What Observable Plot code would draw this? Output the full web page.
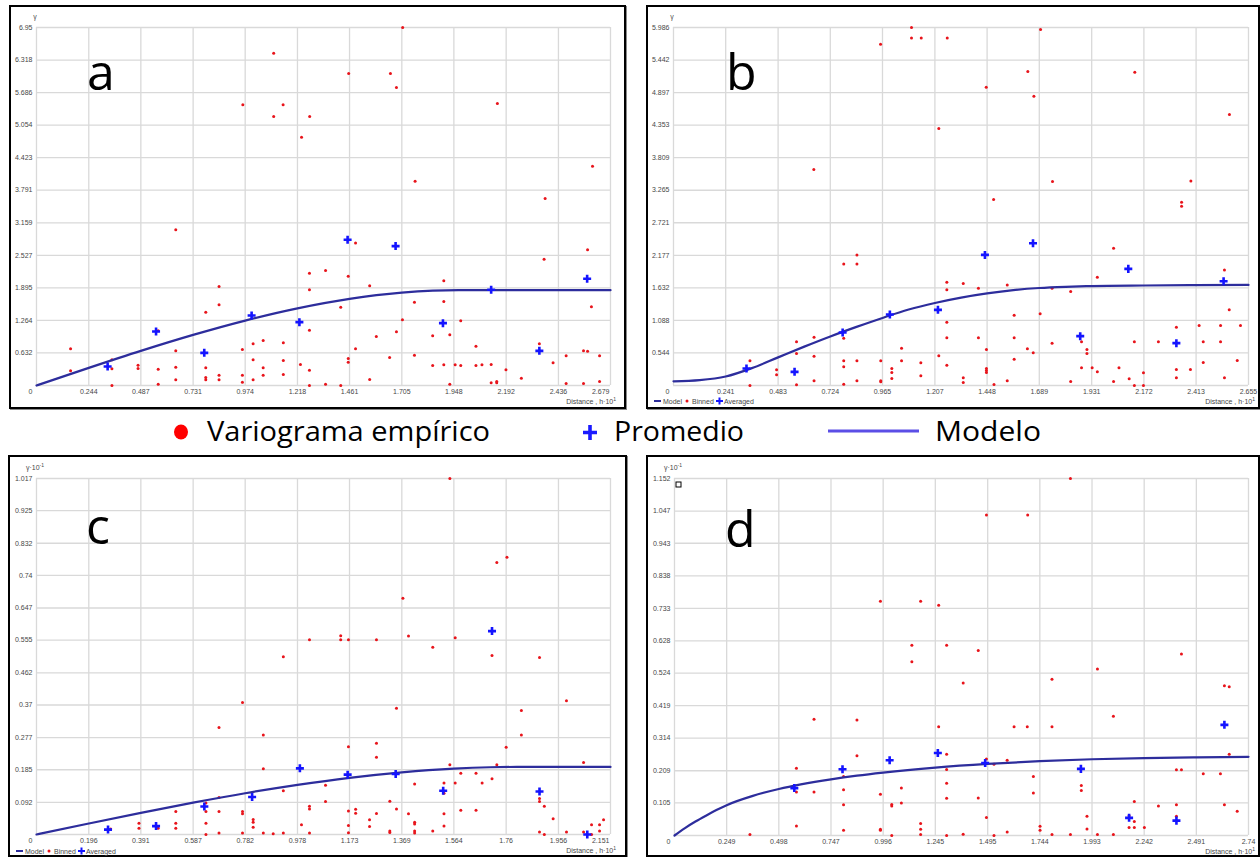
<!DOCTYPE html>
<html><head><meta charset="utf-8">
<script src="https://cdn.jsdelivr.net/npm/d3@7"></script>
<script src="https://cdn.jsdelivr.net/npm/@observablehq/plot@0.6"></script>
<style>
html,body{margin:0;padding:0;background:#fff;}
body{width:1260px;height:857px;overflow:hidden;position:relative;}
.pc{position:absolute;}
.pc svg{display:block;max-width:none!important;}
.frame{position:absolute;box-sizing:border-box;border:2px solid #000;box-shadow:1px 1px 0 #8a8a8a;pointer-events:none;}
#ov{position:absolute;left:0;top:0;pointer-events:none;}
</style></head><body>
<script>
// ---------- Panel a ----------
const xTicksA = [0.244,0.487,0.731,0.974,1.218,1.461,1.705,1.948,2.192,2.436,2.679];
const yTicksA = [0.632,1.264,1.895,2.527,3.159,3.791,4.423,5.054,5.686,6.318,6.95];
const binnedA = [
[0.963,5.449],[1.107,6.451],[1.151,5.449],[1.107,5.222],[1.275,5.222],[1.237,4.820],[1.709,6.95],[1.457,6.057],
[1.652,6.057],[1.680,5.785],[2.151,5.474],[2.595,4.257],[1.767,3.966],[2.374,3.630],
[0.159,0.712],[0.159,0.285],[0.352,0.498],[0.352,0.324],[0.352,0.0],[0.474,0.395],[0.474,0.330],[0.568,1.062],
[0.568,0.317],[0.568,0.026],[0.650,3.023],[0.650,0.673],[0.650,0.356],[0.650,0.110],[0.790,1.424],[0.790,0.343],
[0.790,0.155],[0.790,0.110],[0.852,1.922],[0.852,1.566],[0.852,0.201],[0.852,0.110],[0.961,0.699],[0.961,0.201],
[0.961,0.065],[1.011,0.809],[1.011,0.498],[1.011,0.110],[1.058,0.874],[1.058,0.343],[1.058,0.201],[1.152,0.829],
[1.152,0.485],[1.152,0.214],[1.232,0.408],[1.274,2.181],[1.274,1.858],[1.274,1.075],[1.274,0.298],[1.274,0.0],
[1.349,2.233],[1.349,0.026],[1.420,1.521],[1.420,0.0],[1.455,2.123],[1.455,0.524],[1.455,0.453],[1.489,2.764],
[1.489,0.712],[1.555,1.935],[1.555,0.117],[1.586,0.952],[1.648,0.544],[1.680,1.042],[1.708,1.275],[1.764,1.618],
[1.764,0.589],[1.849,0.964],[1.849,0.388],[1.901,2.033],[1.901,1.631],[1.901,0.401],[1.929,0.984],[1.929,0.026],
[1.954,0.401],[1.980,1.256],[1.980,0.388],[2.051,0.764],[2.051,0.388],[2.079,0.401],[2.122,0.408],[2.122,0.052],
[2.148,0.078],[2.148,0.052],[2.191,0.304],[2.263,0.142],[2.347,0.809],[2.369,2.453],[2.411,0.440],[2.472,0.576],
[2.472,0.039],[2.553,0.673],[2.553,0.039],[2.572,2.634],[2.572,0.667],[2.590,1.528],[2.628,0.576],[2.628,0.078]];
const averagedA = [[0.332,0.369],[0.558,1.049],[0.783,0.634],[1.004,1.359],[1.227,1.230],[1.452,2.829],
[1.676,2.706],[1.897,1.210],[2.122,1.858],[2.347,0.673],[2.570,2.071]];
const modelA = [[0,0],[0.244,0.342],[0.487,0.672],[0.731,0.982],[0.974,1.26],[1.218,1.497],[1.461,1.681],
[1.705,1.802],[1.85,1.84],[1.97,1.85],[2.679,1.85]];

// ---------- Panel b ----------
const xTicksB = [0.241,0.483,0.724,0.965,1.207,1.448,1.689,1.931,2.172,2.413,2.655];
const yTicksB = [0.544,1.088,1.632,2.177,2.721,3.265,3.809,4.353,4.897,5.442,5.986];
const binnedB = [
[0.648,3.610],[0.956,5.707],[1.099,5.986],[1.099,5.812],[1.144,5.812],[1.264,5.812],[1.225,4.296],[1.695,5.953],
[1.636,5.250],[1.444,4.987],[1.664,4.836],[2.130,5.238],[2.567,4.530],[1.750,3.409],[2.389,3.419],[1.478,3.108],
[2.346,3.064],[2.346,2.997],
[0.353,0.412],[0.353,0.0],[0.476,0.262],[0.476,0.178],[0.568,0.730],[0.568,0.535],[0.568,0.011],[0.649,0.808],
[0.649,0.490],[0.649,0.078],[0.786,2.033],[0.786,0.791],[0.786,0.412],[0.786,0.312],[0.786,0.022],[0.847,2.184],
[0.847,2.033],[0.847,0.412],[0.847,0.078],[0.957,0.412],[0.957,0.078],[0.957,0.061],[1.008,0.284],[1.008,0.217],
[1.008,0.117],[1.053,0.624],[1.053,0.412],[1.142,0.379],[1.142,0.162],[1.225,0.496],[1.262,1.727],[1.262,1.599],
[1.262,1.058],[1.262,0.797],[1.262,0.340],[1.338,1.705],[1.338,0.128],[1.338,0.050],[1.408,1.627],[1.408,0.797],
[1.445,0.602],[1.445,0.284],[1.445,0.251],[1.445,0.217],[1.480,0.017],[1.541,1.682],[1.541,0.078],[1.573,1.175],
[1.573,0.797],[1.573,0.440],[1.634,0.613],[1.661,0.546],[1.693,1.198],[1.748,1.627],[1.748,0.708],[1.834,1.571],
[1.834,0.067],[1.884,0.730],[1.884,0.295],[1.909,0.602],[1.909,0.535],[1.933,0.295],[1.957,1.811],[1.957,0.228],
[2.032,2.295],[2.032,0.067],[2.057,0.295],[2.104,0.111],[2.128,0.730],[2.128,0.0],[2.170,0.212],[2.170,0.0],
[2.239,0.730],[2.322,0.975],[2.322,0.267],[2.322,0.128],[2.387,0.267],[2.427,1.003],[2.446,0.730],[2.446,0.384],
[2.526,1.003],[2.526,0.730],[2.544,1.933],[2.544,0.128],[2.566,1.265],[2.603,0.418],[2.618,1.003]];
const averagedB = [[0.337,0.284],[0.559,0.228],[0.781,0.886],[0.999,1.187],[1.221,1.265],[1.438,2.184],
[1.660,2.379],[1.878,0.825],[2.100,1.950],[2.322,0.708],[2.540,1.744]];
const modelB = [[0,0.07],[0.121,0.09],[0.241,0.15],[0.362,0.29],[0.483,0.47],[0.604,0.65],[0.724,0.82],
[0.845,0.98],[0.965,1.13],[1.086,1.27],[1.207,1.38],[1.328,1.47],[1.448,1.54],[1.569,1.595],[1.689,1.63],
[1.810,1.65],[1.931,1.662],[2.172,1.672],[2.413,1.678],[2.655,1.682]];

// ---------- Panel c ----------
const xTicksC = [0.196,0.391,0.587,0.782,0.978,1.173,1.369,1.564,1.76,1.956,2.151];
const yTicksC = [0.092,0.185,0.277,0.37,0.462,0.555,0.647,0.74,0.832,0.925,1.017];
const binnedC = [
[1.549,1.017],[1.725,0.777],[1.763,0.792],[1.373,0.675],[1.023,0.556],[1.140,0.568],[1.140,0.556],[1.169,0.556],
[1.274,0.556],[1.394,0.567],[1.569,0.562],[1.485,0.535],
[0.278,0.016],[0.384,0.032],[0.384,0.018],[0.456,0.018],[0.522,0.066],[0.522,0.032],[0.522,0.018],[0.635,0.090],
[0.635,0.066],[0.635,0.032],[0.635,0.0],[0.684,0.306],[0.684,0.106],[0.684,0.066],[0.684,0.004],[0.772,0.377],
[0.772,0.066],[0.772,0.059],[0.772,0.004],[0.812,0.043],[0.812,0.035],[0.812,0.021],[0.850,0.284],[0.850,0.188],
[0.850,0.004],[0.887,0.002],[0.925,0.508],[0.925,0.125],[0.925,0.004],[0.993,0.028],[1.023,0.081],[1.023,0.073],
[1.023,0.004],[1.083,0.141],[1.083,0.094],[1.169,0.251],[1.169,0.067],[1.169,0.026],[1.169,0.005],[1.196,0.072],
[1.196,0.061],[1.248,0.042],[1.248,0.023],[1.274,0.261],[1.274,0.221],[1.274,0.060],[1.324,0.095],[1.324,0.010],
[1.324,0.006],[1.349,0.361],[1.349,0.073],[1.394,0.059],[1.417,0.144],[1.417,0.035],[1.417,0.030],[1.417,0.010],
[1.417,0.004],[1.485,0.010],[1.527,0.147],[1.527,0.118],[1.527,0.059],[1.527,0.024],[1.549,0.199],[1.569,0.147],
[1.590,0.175],[1.590,0.069],[1.647,0.175],[1.647,0.069],[1.670,0.147],[1.707,0.511],[1.707,0.159],[1.725,0.199],
[1.760,0.249],[1.817,0.354],[1.817,0.284],[1.885,0.506],[1.885,0.103],[1.885,0.094],[1.885,0.007],[1.903,0.081],
[1.903,0.0],[1.936,0.045],[1.986,0.382],[1.986,0.007],[2.050,0.206],[2.050,0.007],[2.080,0.028],[2.080,0.0],
[2.110,0.028],[2.110,0.010],[2.125,0.042]];
const averagedC = [[0.268,0.014],[0.448,0.024],[0.629,0.080],[0.808,0.107],[0.987,0.189],[1.166,0.171],
[1.346,0.173],[1.524,0.125],[1.707,0.581],[1.885,0.123],[2.064,0.0]];
const modelC = [[0,0],[0.196,0.0314],[0.391,0.0619],[0.587,0.091],[0.782,0.1179],[0.978,0.1418],[1.173,0.162],
[1.369,0.1777],[1.564,0.1882],[1.7,0.1921],[1.8,0.193],[2.151,0.193]];

// ---------- Panel d ----------
const xTicksD = [0.249,0.498,0.747,0.996,1.245,1.495,1.744,1.993,2.242,2.491,2.74];
const yTicksD = [0.105,0.209,0.314,0.419,0.524,0.628,0.733,0.838,0.943,1.047,1.152];
const binnedD = [
[1.890,1.152],[1.489,1.034],[1.686,1.034],[0.983,0.756],[1.175,0.756],[1.261,0.743],
[0.360,0.003],[0.582,0.217],[0.582,0.140],[0.582,0.031],[0.666,0.375],[0.666,0.140],[0.807,0.190],[0.807,0.148],
[0.807,0.099],[0.807,0.017],[0.871,0.373],[0.871,0.257],[0.983,0.133],[0.983,0.020],[0.983,0.017],[1.037,0.100],
[1.037,0.095],[1.037,0.0],[1.083,0.153],[1.083,0.105],[1.133,0.614],[1.133,0.561],[1.175,0.039],[1.175,0.020],
[1.175,0.003],[1.261,0.351],[1.299,0.614],[1.299,0.262],[1.299,0.213],[1.299,0.169],[1.299,0.120],[1.299,0.0],
[1.378,0.492],[1.378,0.004],[1.450,0.597],[1.450,0.121],[1.489,0.247],[1.489,0.058],[1.525,0.230],[1.525,0.0],
[1.588,0.243],[1.588,0.011],[1.621,0.351],[1.684,0.351],[1.713,0.190],[1.713,0.137],[1.745,0.030],[1.745,0.017],
[1.802,0.504],[1.802,0.351],[1.802,0.003],[1.890,0.003],[1.942,0.161],[1.942,0.145],[1.969,0.062],[1.969,0.021],
[2.019,0.537],[2.019,0.003],[2.095,0.385],[2.095,0.003],[2.170,0.064],[2.170,0.026],[2.195,0.110],[2.195,0.045],
[2.195,0.026],[2.243,0.026],[2.310,0.095],[2.396,0.212],[2.396,0.099],[2.396,0.062],[2.420,0.586],[2.420,0.212],
[2.524,0.199],[2.606,0.199],[2.625,0.483],[2.625,0.099],[2.648,0.480],[2.648,0.262],[2.686,0.078]];
const averagedD = [[0.572,0.153],[0.802,0.214],[1.027,0.243],[1.257,0.266],[1.483,0.234],[1.940,0.215],
[2.170,0.057],[2.396,0.048],[2.625,0.357]];
const modelD = [[0,0],[0.05,0.024],[0.1,0.045],[0.15,0.064],[0.2,0.082],[0.249,0.098],[0.374,0.128],[0.498,0.150],
[0.747,0.181],[0.871,0.193],[0.996,0.203],[1.245,0.219],[1.495,0.231],[1.744,0.240],[1.993,0.246],[2.242,0.25],
[2.491,0.252],[2.74,0.254]];

// ---------- Drawing ----------
const FONT = "'Liberation Sans Narrow','Liberation Sans',Arial,sans-serif";
const RED = "#e8141b", BLUE = "#1414ff", NAVY = "#2d2d9c";
const panels = [];

function drawPanel(p) {
  const X = d => d[0], Y = d => d[1];
  const lastX = p.xTicks[p.xTicks.length - 1];
  const lastY = p.yTicks[p.yTicks.length - 1];
  const grid = {stroke: "#d9d9d9", strokeOpacity: 1, strokeWidth: 1.3};
  const txt = {fontSize: 7, fill: "#474747", fontFamily: FONT};
  const chart = Plot.plot({
    width: p.w, height: p.h,
    marginLeft: p.mL, marginRight: p.mR, marginTop: p.mT, marginBottom: p.mB,
    x: {domain: [0, lastX], axis: null},
    y: {domain: [0, lastY], axis: null},
    style: {background: "transparent", fontFamily: FONT, overflow: "visible"},
    marks: [
      Plot.gridX([0, ...p.xTicks], grid),
      Plot.gridY([0, ...p.yTicks], grid),
      Plot.text(p.yTicks, {x: () => 0, y: d => d, text: d => String(d), textAnchor: "end", dx: -4, ...txt}),
      Plot.text(p.xTicks.slice(0, -1), {x: d => d, y: () => 0, text: d => String(d), dy: 6, ...txt}),
      Plot.text([lastX], {x: d => d, y: () => 0, text: d => String(d), dy: 6,
        textAnchor: p.lastEnd ? "end" : "middle", dx: p.lastEnd ? -1 : 0, ...txt}),
      Plot.text(["0"], {x: () => 0, y: () => 0, text: d => d, dx: -6, dy: 6, ...txt}),
      Plot.dot(p.binned, {x: X, y: Y, r: 1.5, fill: RED, stroke: "none"}),
      Plot.line(p.model, {x: X, y: Y, curve: "monotone-x", stroke: NAVY, strokeWidth: 2.2}),
      Plot.dot(p.averaged, {x: X, y: Y, symbol: "plus", r: 2.7, stroke: BLUE, strokeWidth: 2.6})
    ]
  });
  const div = document.createElement("div");
  div.className = "pc";
  div.style.left = p.left + "px"; div.style.top = p.top + "px";
  div.style.width = p.w + "px"; div.style.height = p.h + "px";
  div.appendChild(chart);
  document.body.appendChild(div);
  const fr = document.createElement("div");
  fr.className = "frame";
  fr.style.left = p.left + "px"; fr.style.top = p.top + "px";
  fr.style.width = p.fw + "px"; fr.style.height = p.h + "px";
  document.body.appendChild(fr);
  panels.push({p, plotL: p.left + p.mL, plotR: p.left + p.w - p.mR, plotT: p.top + p.mT, plotB: p.top + p.h - p.mB});
}

drawPanel({binned: binnedA, averaged: averagedA, model: modelA, xTicks: xTicksA, yTicks: yTicksA,
  left: 9, top: 5, w: 617, fw: 617, h: 404, mL: 27, mR: 16, mT: 22, mB: 24, sup: false, lastEnd: true, distDx: 6});
drawPanel({binned: binnedB, averaged: averagedB, model: modelB, xTicks: xTicksB, yTicks: yTicksB,
  left: 646, top: 5, w: 614, fw: 614, h: 404, mL: 27, mR: 12, mT: 22, mB: 24, sup: false, lastEnd: false, distDx: 7});
drawPanel({binned: binnedC, averaged: averagedC, model: modelC, xTicks: xTicksC, yTicks: yTicksC,
  left: 8, top: 455, w: 619, fw: 619, h: 402, mL: 28, mR: 17, mT: 23, mB: 23, sup: true, lastEnd: true, distDx: 6});
drawPanel({binned: binnedD, averaged: averagedD, model: modelD, xTicks: xTicksD, yTicks: yTicksD,
  left: 646, top: 455, w: 614, fw: 614, h: 402, mL: 28, mR: 12, mT: 23, mB: 22, sup: true, lastEnd: false, distDx: 7});

// ---------- Overlay: axis titles, panel letters, shared legend, in-panel legends ----------
const NS = "http://www.w3.org/2000/svg";
const ov = document.createElementNS(NS, "svg");
ov.setAttribute("id", "ov"); ov.setAttribute("width", 1260); ov.setAttribute("height", 857);
document.body.appendChild(ov);
function el(tag, attrs, text, parent) {
  const e = document.createElementNS(NS, tag);
  for (const k in attrs) e.setAttribute(k, attrs[k]);
  if (text != null) e.textContent = text;
  (parent || ov).appendChild(e); return e;
}
const small = {"font-family": FONT, "font-size": 7, fill: "#474747"};

// axis titles with real superscripts
panels.forEach(({p, plotL, plotR, plotT, plotB}) => {
  const yt = el("text", {x: plotL - 1, y: plotT - 8.5, "text-anchor": "middle", ...small});
  el("tspan", {}, p.sup ? "γ·10" : "γ", yt);
  if (p.sup) el("tspan", {dy: -2.5, "font-size": 5}, "-1", yt);
  const xt = el("text", {x: plotR + p.distDx, y: plotB + 18.5, "text-anchor": "end", ...small});
  el("tspan", {}, "Distance , h·10", xt);
  el("tspan", {dy: -2.5, "font-size": 5}, "1", xt);
});

const BIG = "'Open Sans','Noto Sans',sans-serif";
[["a", 87, 90], ["b", 726, 90], ["c", 86, 544], ["d", 725, 547]].forEach(([t, x, y]) =>
  el("text", {x, y, "font-family": BIG, "font-size": 50, fill: "#000"}, t));

// shared legend row
el("ellipse", {cx: 181, cy: 432, rx: 7, ry: 7.5, fill: "#ff0000"});
el("text", {x: 207, y: 441, "font-family": BIG, "font-size": 27, fill: "#000", textLength: 283, lengthAdjust: "spacingAndGlyphs"}, "Variograma empírico");
el("path", {d: "M583,432.5H597M590,425V440", stroke: "#1a1aff", "stroke-width": 3.6, fill: "none"});
el("text", {x: 614, y: 441, "font-family": BIG, "font-size": 27, fill: "#000", textLength: 130, lengthAdjust: "spacingAndGlyphs"}, "Promedio");
el("line", {x1: 828, x2: 919, y1: 431, y2: 431, stroke: "#5b4ee6", "stroke-width": 3});
el("text", {x: 935, y: 441, "font-family": BIG, "font-size": 27, fill: "#000", textLength: 106, lengthAdjust: "spacingAndGlyphs"}, "Modelo");

// in-panel legends (b and c)
function miniLegend(L, T) {
  const y = T + 396;
  const f = {...small, "dominant-baseline": "central"};
  el("line", {x1: L + 8, x2: L + 15, y1: y, y2: y, stroke: NAVY, "stroke-width": 2});
  el("text", {x: L + 17, y, ...f}, "Model");
  el("circle", {cx: L + 41, cy: y, r: 1.5, fill: RED});
  el("text", {x: L + 46, y, ...f}, "Binned");
  el("path", {d: `M${L + 70},${y}h7M${L + 73.5},${y - 3.5}v7`, stroke: BLUE, "stroke-width": 2, fill: "none"});
  el("text", {x: L + 78, y, ...f}, "Averaged");
}
miniLegend(646, 5);
miniLegend(8, 455);

// small square marker in panel d
el("rect", {x: 676, y: 482, width: 5, height: 5, fill: "none", stroke: "#000", "stroke-width": 1});
</script>
</body></html>
